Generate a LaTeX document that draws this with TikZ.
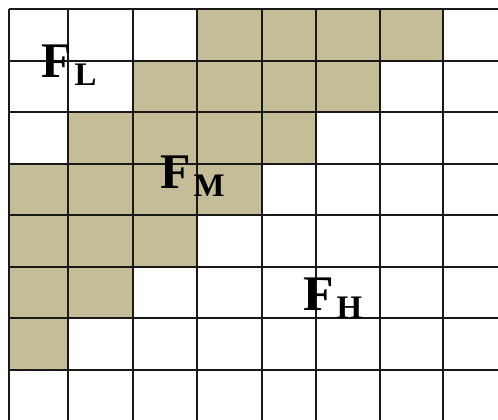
\documentclass[tikz,border=0pt]{standalone}
\usepackage{fontspec}
\setmainfont{Liberation Serif}
\definecolor{tancell}{HTML}{C4BD97}
\newcommand\gridlbl[2]{{\fontsize{50}{50}\selectfont\bfseries #1}\kern3bp\raisebox{-8bp}{\fontsize{33}{33}\selectfont\bfseries #2}}
\tikzset{
  gridline/.style={draw=black!90, line width=1.8bp},
  cell/.style={fill=tancell},
  lbl/.style={anchor=base west, inner sep=0pt}
}
\begin{document}
\begin{tikzpicture}[x=1bp,y=-1bp]
\useasboundingbox (0,0) rectangle (498,419);
\clip (0,0) rectangle (498,419);
\fill[white] (0,0) rectangle (498,419);
% shaded band
\fill[cell] (197,9) rectangle (443,61);
\fill[cell] (133,61) rectangle (380,112);
\fill[cell] (68,112) rectangle (316,164);
\fill[cell] (9,164) rectangle (262,215);
\fill[cell] (9,215) rectangle (197,267);
\fill[cell] (9,267) rectangle (133,318);
\fill[cell] (9,318) rectangle (68,370);
% grid
\foreach \x in {9,68,133,197,262,316,380,443} \draw[gridline] (\x,9) -- (\x,430);
\foreach \y in {9,61,112,164,215,267,318,370} \draw[gridline] (9,\y) -- (510,\y);
% labels
\node[lbl] (fl) at (41,77) {\gridlbl{F}{L}};
\node[lbl] (fm) at (160,188) {\gridlbl{F}{M}};
\node[lbl] (fh) at (303,310) {\gridlbl{F}{H}};
\end{tikzpicture}
\end{document}
